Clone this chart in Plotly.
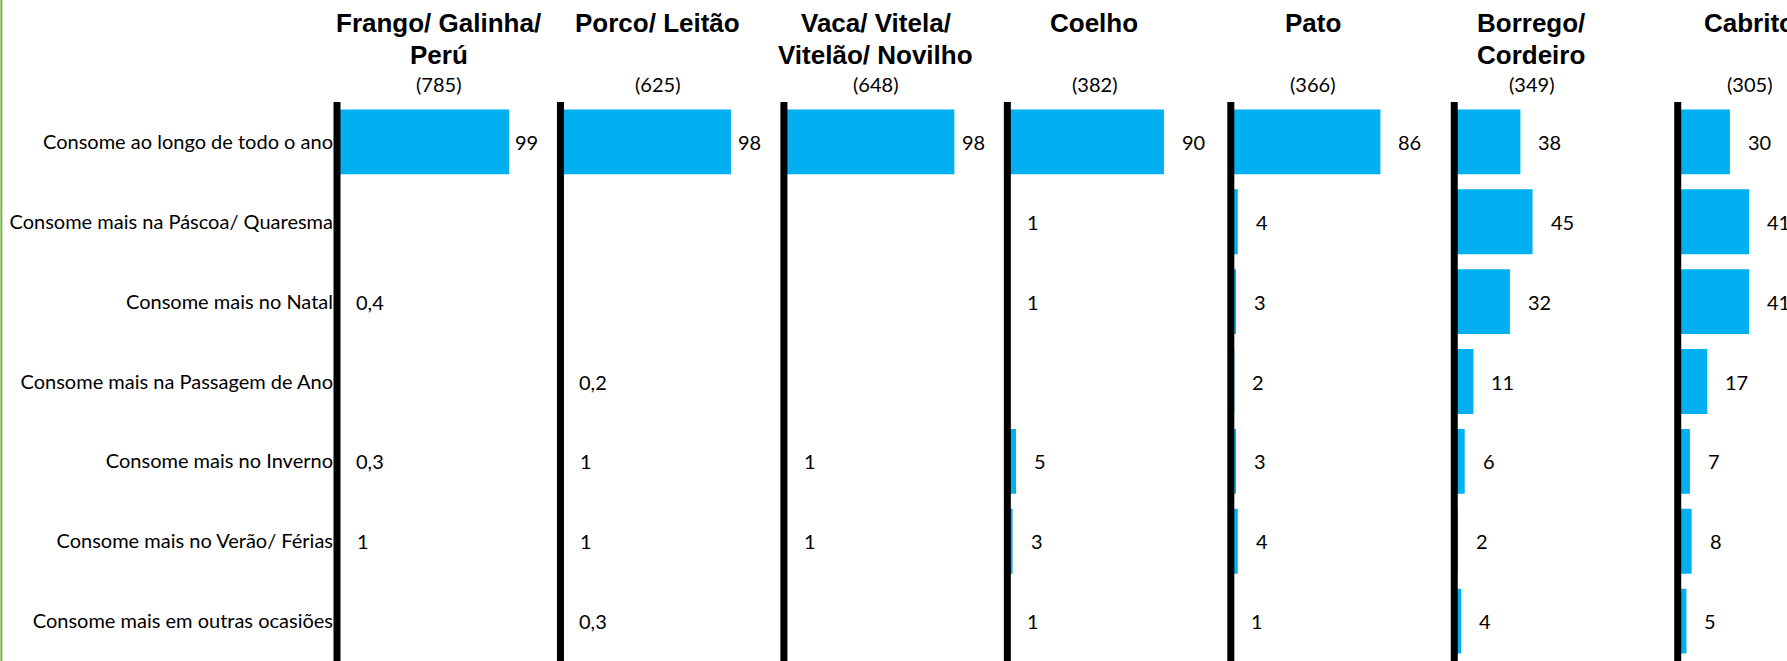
import plotly.graph_objects as go

# Occasions (rows, top to bottom)
categories = [
    "Consome ao longo de todo o ano",
    "Consome mais na Páscoa/ Quaresma",
    "Consome mais no Natal",
    "Consome mais na Passagem de Ano",
    "Consome mais no Inverno",
    "Consome mais no Verão/ Férias",
    "Consome mais em outras ocasiões",
]

# Meat types (panels, left to right) and base sizes; each heading line listed separately
meats = [
    ["Frango/ Galinha/", "Perú"],
    ["Porco/ Leitão"],
    ["Vaca/ Vitela/", "Vitelão/ Novilho"],
    ["Coelho"],
    ["Pato"],
    ["Borrego/", "Cordeiro"],
    ["Cabrito"],
]
bases = [785, 625, 648, 382, 366, 349, 305]

# Percentages per occasion (None = no answer shown)
frango = [99, None, 0.4, None, 0.3, 1, None]
porco = [98, None, None, 0.2, 1, 1, 0.3]
vaca = [98, None, None, None, 1, 1, None]
coelho = [90, 1, 1, None, 5, 3, 1]
pato = [86, 4, 3, 2, 3, 4, 1]
borrego = [38, 45, 32, 11, 6, 2, 4]
cabrito = [30, 41, 41, 17, 7, 8, 5]
series = [frango, porco, vaca, coelho, pato, borrego, cabrito]

# Layout constants (pixels)
W, H = 1787, 661
LEFT, TOP = 336.7, 102
PANEL_PX = 223.5
PX_PER_UNIT = 1.74
LABEL_GAP = 16          # gap between bar end and its value label
LABEL_LIMIT_PX = 203    # value labels stay within this distance of the baseline
DIGIT_PX = 10.5
plot_w = W - LEFT
plot_h = H - TOP

BAR_COLOR = "#00B0F0"
LABEL_FONT = dict(family="Lato, Calibri, sans-serif", size=20, color="#000000")
TITLE_FONT = dict(family="Liberation Sans, Arial, sans-serif", size=26, color="#000000")


def fmt(v):
    if float(v).is_integer():
        return str(int(v))
    return str(v).replace(".", ",")


def paper_y(py):
    return (H - py) / plot_h


fig = go.Figure()
layout_axes = {}
annotations = []
shapes = []

for i, (name_lines, vals) in enumerate(zip(meats, series)):
    sfx = "" if i == 0 else str(i + 1)
    d0 = i * PANEL_PX / plot_w
    d1 = min(1.0, (i + 1) * PANEL_PX / plot_w)
    span_px = (d1 - d0) * plot_w
    fig.add_trace(go.Bar(
        x=vals, y=categories, orientation="h",
        marker=dict(color=BAR_COLOR, line=dict(width=0)),
        xaxis="x" + sfx, yaxis="y" + sfx,
        hoverinfo="x+y", showlegend=False,
    ))
    layout_axes["xaxis" + sfx] = dict(
        domain=[d0, d1], range=[0, span_px / PX_PER_UNIT],
        showgrid=False, zeroline=False, showline=False,
        showticklabels=False, ticks="", anchor="y" + sfx, fixedrange=True,
    )
    layout_axes["yaxis" + sfx] = dict(
        domain=[0, 1], anchor="x" + sfx,
        categoryorder="array", categoryarray=categories,
        range=[len(categories) - 0.5, -0.5],
        showline=False, showgrid=False, zeroline=False, ticks="",
        showticklabels=(i == 0), tickfont=LABEL_FONT, ticklabelstandoff=3,
        fixedrange=True,
    )
    # thick black baseline at zero (paper coords so it is not clipped)
    shapes.append(dict(
        type="line", xref="paper", yref="paper",
        x0=d0, x1=d0, y0=0, y1=1,
        line=dict(color="#000000", width=7), layer="above",
    ))
    # value labels at the end of each bar, kept inside the panel
    for cat, v in zip(categories, vals):
        if v is None:
            continue
        txt = fmt(v)
        est_w = DIGIT_PX * len(txt)
        if v * PX_PER_UNIT + LABEL_GAP + est_w > LABEL_LIMIT_PX:
            ann = dict(x=LABEL_LIMIT_PX / PX_PER_UNIT, xanchor="right", xshift=0)
        else:
            ann = dict(x=v, xanchor="left", xshift=LABEL_GAP)
        ann.update(
            y=cat, xref="x" + sfx, yref="y" + sfx,
            text=txt, showarrow=False, yanchor="middle", font=LABEL_FONT,
        )
        annotations.append(ann)
    # panel heading (one annotation per line) and base size
    cx = (438.5 + 218.5 * i - LEFT) / plot_w
    for k, line in enumerate(name_lines):
        annotations.append(dict(
            x=cx, y=paper_y(23 + 31.5 * k), xref="paper", yref="paper",
            text="<b>%s</b>" % line, showarrow=False,
            xanchor="center", yanchor="middle", font=TITLE_FONT,
        ))
    annotations.append(dict(
        x=cx, y=paper_y(83.5), xref="paper", yref="paper",
        text="(%d)" % bases[i], showarrow=False, xanchor="center", yanchor="middle",
        font=LABEL_FONT,
    ))

# green strip along the left edge of the page
shapes.append(dict(
    type="rect", xref="paper", yref="paper",
    x0=(0 - LEFT) / plot_w, x1=(2 - LEFT) / plot_w, y0=0, y1=H / plot_h,
    fillcolor="#78B545", line=dict(width=0), layer="above",
))

fig.update_layout(
    width=W, height=H,
    margin=dict(l=LEFT, r=0, t=TOP, b=0, pad=0),
    paper_bgcolor="#FFFFFF", plot_bgcolor="#FFFFFF",
    bargap=0.1875,
    annotations=annotations,
    shapes=shapes,
    **layout_axes,
)

fig.write_html("out.html")
